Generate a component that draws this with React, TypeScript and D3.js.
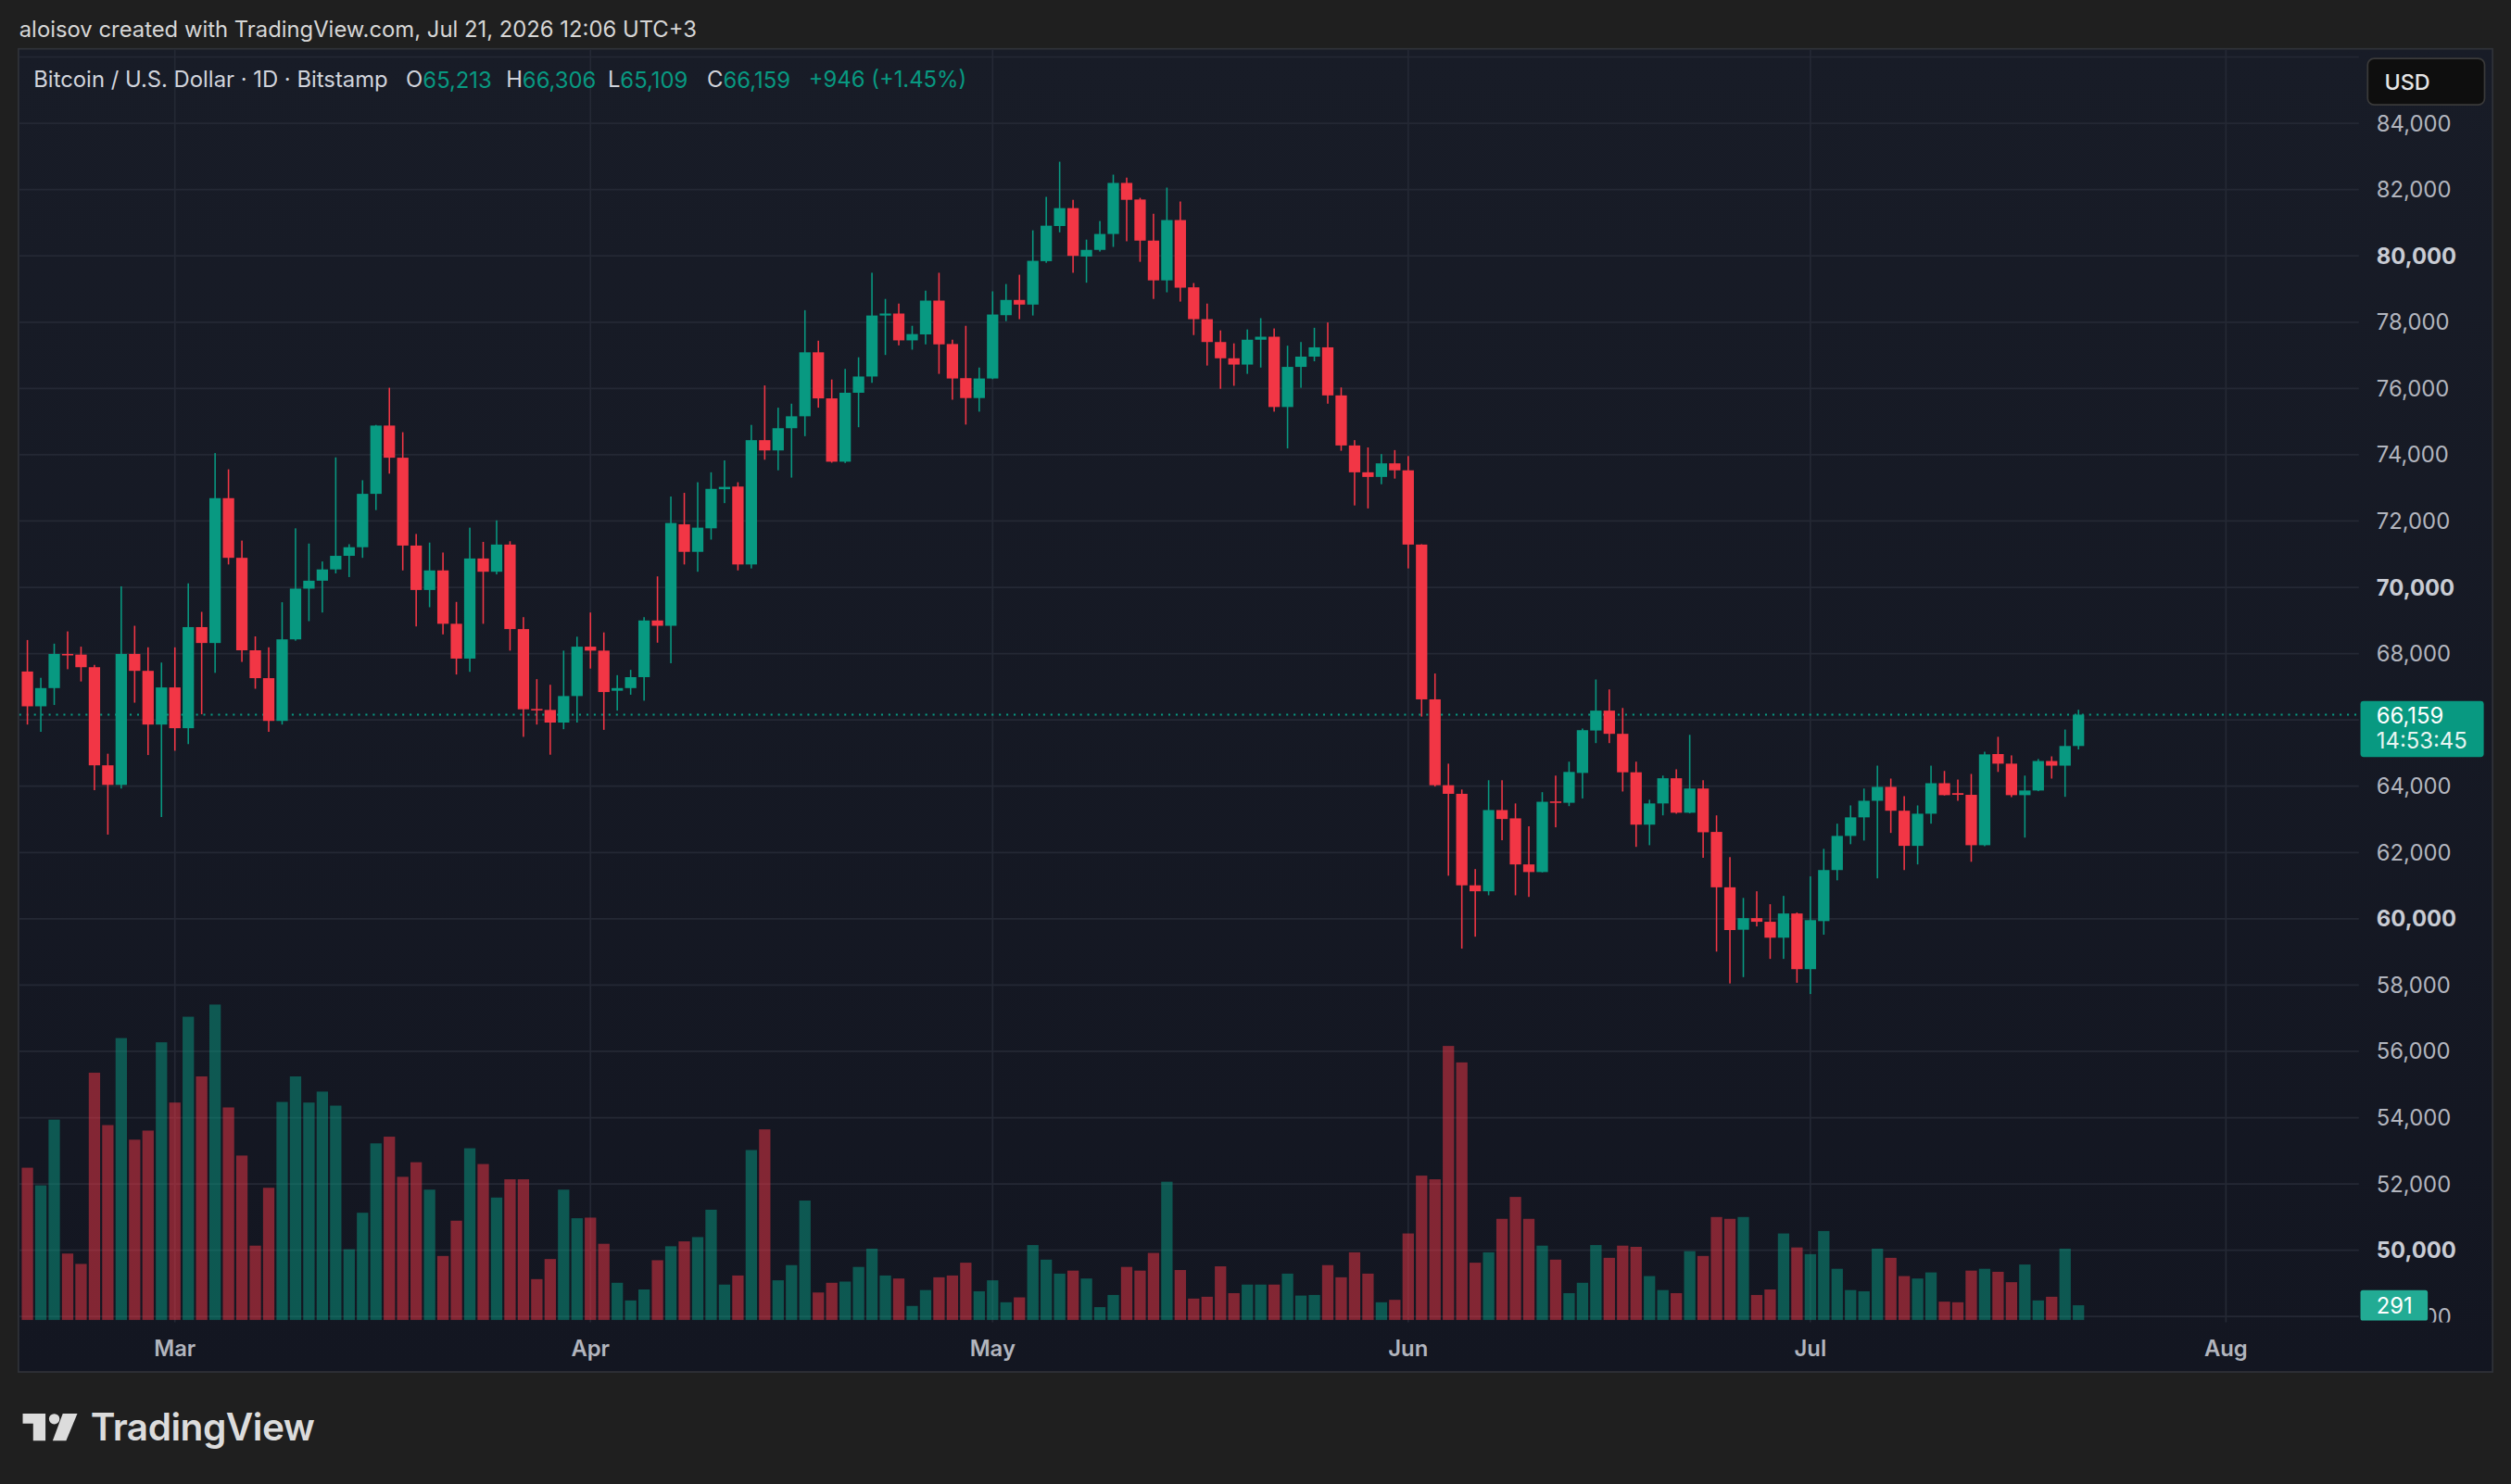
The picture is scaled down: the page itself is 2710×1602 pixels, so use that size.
import React from 'react';
import * as d3 from 'd3';

// daily candles, [open, high, low, close]
type Bar = [number, number, number, number];

const febOhlc: Bar[] = [
  [67460, 68410, 65860, 66410], [66410, 67270, 65640, 66960], [66960, 68300, 66450, 67990],
  [67990, 68670, 67530, 67970], [67970, 68210, 67160, 67590], [67590, 67660, 63880, 64630],
  [64630, 64980, 62540, 64040], [64040, 70030, 63930, 67990], [67990, 68840, 66520, 67480],
  [67480, 68190, 64940, 65860], [65860, 67730, 63070, 66980],
];
const marOhlc: Bar[] = [
  [66980, 68190, 65070, 65750], [65750, 70120, 65270, 68800], [68800, 69260, 66170, 68320],
  [68320, 74050, 67420, 72690], [72690, 73560, 70690, 70890], [70890, 71410, 67750, 68100],
  [68100, 68520, 66940, 67260], [67260, 68190, 65640, 65970], [65970, 69550, 65860, 68430],
  [68430, 71780, 68390, 69960], [69960, 71320, 68980, 70200], [70200, 70780, 69240, 70540],
  [70540, 73920, 70420, 70950], [70950, 71300, 70310, 71210], [71210, 73230, 70890, 72820],
  [72820, 74900, 72330, 74880], [74880, 76020, 73430, 73910], [73910, 74680, 70510, 71260],
  [71260, 71610, 68820, 69920], [69920, 71350, 69400, 70510], [70510, 71050, 68580, 68900],
  [68900, 69560, 67370, 67850], [67850, 71800, 67450, 70870], [70870, 71370, 68900, 70470],
  [70470, 72020, 70390, 71290], [71290, 71390, 68090, 68740], [68740, 69100, 65490, 66320],
  [66330, 67230, 65860, 66300], [66300, 67060, 64950, 65920], [65920, 68090, 65720, 66720],
  [66720, 68510, 65920, 68210],
];
const aprOhlc: Bar[] = [
  [68210, 69240, 67550, 68090], [68090, 68640, 65700, 66840], [66880, 67350, 66280, 66960],
  [66960, 67510, 66760, 67290], [67290, 69100, 66580, 69000], [69000, 70330, 68330, 68840],
  [68840, 72740, 67710, 71940], [71900, 72850, 70690, 71070], [71070, 73170, 70470, 71800],
  [71780, 73470, 71440, 72970], [72960, 73830, 72540, 73030], [73040, 73170, 70510, 70690],
  [70690, 74900, 70570, 74440], [74440, 76090, 73850, 74130], [74130, 75420, 73530, 74800],
  [74800, 75540, 73310, 75160], [75160, 78360, 74560, 77090], [77090, 77440, 75420, 75700],
  [75700, 76270, 73760, 73790], [73790, 76590, 73750, 75870], [75870, 76940, 74830, 76360],
  [76360, 79490, 76170, 78200], [78200, 78700, 77010, 78260], [78260, 78560, 77300, 77450],
  [77450, 77890, 77170, 77640], [77630, 78950, 77330, 78650], [78650, 79490, 76440, 77330],
  [77340, 77470, 75660, 76300], [76310, 77890, 74910, 75710], [75710, 76630, 75300, 76300],
];
const mayOhlc: Bar[] = [
  [76300, 78930, 76280, 78230], [78210, 79150, 78030, 78670], [78670, 79430, 78090, 78530],
  [78530, 80770, 78200, 79850], [79840, 81780, 79790, 80910], [80900, 82840, 80710, 81440],
  [81440, 81690, 79490, 80000], [79980, 80490, 79190, 80180], [80180, 81050, 80130, 80660],
  [80660, 82450, 80270, 82200], [82200, 82360, 80440, 81690], [81700, 81750, 79820, 80460],
  [80460, 81270, 78700, 79260], [79260, 82060, 78900, 81080], [81080, 81640, 78620, 79040],
  [79050, 79180, 77610, 78090], [78090, 78560, 76690, 77400], [77400, 77750, 75990, 76910],
  [76910, 77360, 76080, 76720], [76720, 77780, 76440, 77470], [77470, 78120, 76630, 77560],
  [77560, 77810, 75300, 75440], [75440, 77290, 74190, 76650], [76650, 77400, 76020, 76960],
  [76960, 77830, 76820, 77240], [77240, 77990, 75540, 75790], [75790, 76030, 74120, 74280],
  [74280, 74440, 72470, 73470], [73470, 74220, 72380, 73330], [73330, 74020, 73110, 73740],
  [73740, 74140, 73280, 73530],
];
const junOhlc: Bar[] = [
  [73530, 73960, 70570, 71290], [71290, 71300, 66100, 66620], [66620, 67400, 63990, 64030],
  [64030, 64680, 61300, 63770], [63770, 63900, 59100, 61010], [61010, 61500, 59460, 60830],
  [60830, 64180, 60710, 63280], [63280, 64180, 62370, 63010], [63030, 63480, 60710, 61640],
  [61640, 62790, 60660, 61410], [61410, 63820, 61400, 63530], [63540, 64320, 62760, 63510],
  [63500, 64740, 63400, 64430], [64400, 65740, 63630, 65690], [65680, 67220, 65300, 66280],
  [66280, 66920, 65300, 65580], [65580, 66360, 63840, 64420], [64420, 64740, 62170, 62840],
  [62840, 63590, 62220, 63480], [63480, 64320, 63120, 64240], [64240, 64510, 63170, 63200],
  [63200, 65550, 63180, 63930], [63930, 64180, 61840, 62610], [62620, 63120, 59010, 60950],
  [60950, 61860, 58050, 59660], [59670, 60630, 58240, 60020], [60020, 60830, 59770, 59910],
  [59910, 60440, 58790, 59430], [59430, 60690, 58790, 60160], [60160, 60190, 58070, 58480],
];
const julOhlc: Bar[] = [
  [58480, 61280, 57730, 59960], [59930, 62110, 59520, 61470], [61470, 62870, 61160, 62500],
  [62500, 63420, 62250, 63060], [63060, 63930, 62360, 63560], [63560, 64620, 61220, 63980],
  [63980, 64230, 62590, 63260], [63260, 63700, 61470, 62200], [62200, 63420, 61640, 63170],
  [63170, 64620, 62870, 64090], [64090, 64460, 63720, 63730], [63790, 64200, 63560, 63740],
  [63740, 64370, 61720, 62220], [62220, 65040, 62190, 64960], [64970, 65490, 64430, 64680],
  [64680, 64930, 63670, 63730], [63730, 64320, 62450, 63870], [63870, 64820, 63850, 64760],
  [64760, 64900, 64230, 64620], [64620, 65710, 63680, 65213], [65213, 66306, 65109, 66159],
];

// volume (BTC)
const febVol = [3025, 2674, 3981, 1319, 1113, 4913, 3872, 5602, 3582, 3763, 5518];
const marVol = [4320, 6026, 4840, 6268, 4223, 3267, 1476, 2626, 4332, 4840, 4320, 4538, 4259, 1404, 2130, 3509,
  3642, 2844, 3134, 2589, 1271, 1972, 3412, 3098, 2432, 2795, 2795, 811, 1210, 2589, 2021];
const aprVol = [2033, 1513, 738, 387, 605, 1186, 1464, 1561, 1646, 2190, 702, 883, 3376, 3787, 787, 1089,
  2372, 545, 738, 762, 1053, 1416, 883, 823, 278, 593, 847, 883, 1137, 569];
const mayVol = [787, 351, 448, 1488, 1198, 920, 980, 823, 254, 496, 1053, 980, 1331, 2747, 992, 424, 460,
  1065, 532, 702, 702, 702, 920, 484, 496, 1089, 847, 1343, 920, 351, 399];
const junVol = [1718, 2868, 2795, 5445, 5118, 1137, 1343, 2009, 2444, 2009, 1476, 1198, 532, 738, 1488, 1234,
  1476, 1452, 871, 593, 532, 1367, 1271, 2045, 2009, 2045, 496, 605, 1718, 1440];
const julVol = [1307, 1767, 1016, 593, 569, 1416, 1234, 871, 823, 944, 363, 351, 980, 1016, 956, 750, 1101,
  387, 460, 1416, 291];

const priceTicks = d3.range(48000, 84001, 2000);
const gridTicks = d3.range(48000, 86001, 2000);
const legendText = 'Bitcoin / U.S. Dollar · 1D · Bitstamp';
const lastPrice = 66159;
const lastVolume = 291;
const countdown = '14:53:45';

const UP = '#089981';
const DOWN = '#f23645';
const FONT = 'Inter, Roboto, "Noto Sans", sans-serif';

const W = 1568;
const H = 927;
const plotLeft = 12;
const plotRight = 1473;
const plotTop = 31;
const plotBottom = 826;

export default function App() {
  const ohlc = [...febOhlc, ...marOhlc, ...aprOhlc, ...mayOhlc, ...junOhlc, ...julOhlc];
  const vols = [...febVol, ...marVol, ...aprVol, ...mayVol, ...junVol, ...julVol];
  const days = d3.utcDay.range(new Date(Date.UTC(2026, 1, 18)), new Date(Date.UTC(2026, 6, 22)));

  const x = d3.scaleUtc()
    .domain([new Date(Date.UTC(2026, 2, 1)), new Date(Date.UTC(2026, 7, 1))])
    .range([109.2, 1390]);
  const y = d3.scaleLinear().domain([84000, 48000]).range([77, 822.4]);
  const yVol = d3.scaleLinear().domain([0, d3.max(vols) as number]).range([824.5, 627.5]);

  const months = d3.utcMonth.range(new Date(Date.UTC(2026, 2, 1)), new Date(Date.UTC(2026, 7, 2)));
  const monthFmt = d3.utcFormat('%b');
  const priceFmt = d3.format(',');

  const bodyW = 7.1;
  const lastY = y(lastPrice);
  // labels hidden under the last price badge are not drawn, like the real axis
  const axisTicks = priceTicks.filter((p) => Math.abs(y(p) - (lastY + 8.5)) > 20);

  return (
    <svg
      width={2710}
      height={1602}
      viewBox={`0 0 ${W} ${H}`}
      preserveAspectRatio="none"
      style={{ position: 'absolute', left: 0, top: 0, display: 'block' }}
      fontFamily={FONT}
    >
      <defs>
        <linearGradient id="bg" x1="0" y1="0" x2="0" y2="1">
          <stop offset="0" stopColor="#181c27" />
          <stop offset="1" stopColor="#131621" />
        </linearGradient>
        <clipPath id="plotClip">
          <rect x={plotLeft} y={plotTop} width={plotRight - plotLeft} height={plotBottom - plotTop} />
        </clipPath>
        <clipPath id="axisClip">
          <rect x={plotRight} y={plotTop} width={90} height={plotBottom - plotTop} />
        </clipPath>
        <clipPath id="volLabelClip">
          <rect x={1517} y={plotTop} width={40} height={plotBottom - plotTop} />
        </clipPath>
      </defs>

      <rect x={0} y={0} width={W} height={H} fill="#1f1f1f" />
      <text x={12} y={18.5} dominantBaseline="central" fontSize={13.8} fill="#d6d6d6">
        aloisov created with TradingView.com, Jul 21, 2026 12:06 UTC+3
      </text>

      {/* panel */}
      <rect x={11.5} y={30.5} width={1545} height={826.5} fill="url(#bg)" stroke="#303238" strokeWidth={1} />

      {/* grid */}
      <g stroke="#242834" strokeWidth={1}>
        {gridTicks.map((p) => (
          <line key={'h' + p} x1={plotLeft} x2={plotRight} y1={y(p)} y2={y(p)} />
        ))}
        {months.map((m) => (
          <line key={'v' + m.getTime()} x1={x(m)} x2={x(m)} y1={plotTop} y2={plotBottom} />
        ))}
      </g>

      <g clipPath="url(#plotClip)">
        {/* volume */}
        {vols.map((v, i) => {
          const [o, , , c] = ohlc[i];
          return (
            <rect
              key={'vol' + i}
              x={x(days[i]) - bodyW / 2}
              y={yVol(v)}
              width={bodyW}
              height={yVol(0) - yVol(v)}
              fill={c >= o ? UP : DOWN}
              fillOpacity={0.5}
            />
          );
        })}

        {/* last price line */}
        <line x1={plotLeft} x2={plotRight} y1={lastY} y2={lastY} stroke={UP} strokeWidth={1.1} strokeDasharray="1.2 3.4" />

        {/* candles */}
        {ohlc.map(([o, h, l, c], i) => {
          const cx = x(days[i]);
          const col = c >= o ? UP : DOWN;
          const top = y(Math.max(o, c));
          const bh = Math.max(0.9, Math.abs(y(o) - y(c)));
          return (
            <g key={'c' + i} fill={col}>
              <rect x={cx - 0.45} y={y(h)} width={0.9} height={y(l) - y(h)} />
              <rect x={cx - bodyW / 2} y={top} width={bodyW} height={bh} />
            </g>
          );
        })}
      </g>

      {/* price axis */}
      <g clipPath="url(#axisClip)">
        {axisTicks.map((p) => (
          <g key={'pl' + p} clipPath={p === 48000 ? 'url(#volLabelClip)' : undefined}>
            <text
              x={1484}
              y={y(p)}
              dominantBaseline="central"
              fontSize={13.8}
              fontWeight={p % 10000 === 0 ? 700 : 400}
              fill={p % 10000 === 0 ? '#c9ccd4' : '#b2b5be'}
            >
              {priceFmt(p)}
            </text>
          </g>
        ))}
      </g>

      {/* USD button */}
      <rect x={1478.5} y={36.5} width={73} height={29} rx={4} fill="#0e0e0e" stroke="#3a3a3a" />
      <text x={1489} y={51} dominantBaseline="central" fontSize={13.5} fill="#e6e6e6" fontWeight={500}>USD</text>

      {/* last price label */}
      <rect x={1474} y={lastY - 8.5} width={77} height={35} rx={2} fill={UP} />
      <text x={1484} y={lastY + 0.5} dominantBaseline="central" fontSize={13.8} fill="#ffffff">
        {priceFmt(lastPrice)}
      </text>
      <text x={1484} y={lastY + 16.5} dominantBaseline="central" fontSize={13.8} fill="#e8f5f2">
        {countdown}
      </text>

      {/* volume label */}
      <rect x={1474} y={yVol(lastVolume) - 9.5} width={42} height={19} rx={1.5} fill="#22ab94" />
      <text x={1484} y={yVol(lastVolume)} dominantBaseline="central" fontSize={13.8} fill="#ffffff">
        {lastVolume}
      </text>

      {/* time axis */}
      {months.map((m) => (
        <text
          key={'ml' + m.getTime()}
          x={x(m)}
          y={842.5}
          textAnchor="middle"
          dominantBaseline="central"
          fontSize={13.8}
          fontWeight={600}
          fill="#b2b5be"
        >
          {monthFmt(m)}
        </text>
      ))}

      {/* legend */}
      <g fontSize={13.8} fill="#d1d4dc">
        <text x={21} y={49.5} dominantBaseline="central">{legendText}</text>
        <text x={253.5} y={49.5} dominantBaseline="central">O<tspan fill={UP}>65,213</tspan></text>
        <text x={316} y={49.5} dominantBaseline="central">H<tspan fill={UP}>66,306</tspan></text>
        <text x={379.5} y={49.5} dominantBaseline="central">L<tspan fill={UP}>65,109</tspan></text>
        <text x={441.5} y={49.5} dominantBaseline="central">C<tspan fill={UP}>66,159</tspan></text>
        <text x={505} y={49.5} dominantBaseline="central" fill={UP}>+946 (+1.45%)</text>
      </g>

      {/* TradingView logo */}
      <g fill="#dcdcdc">
        <path d="M14.2,883 H28.4 V900 H20.7 V889.3 H14.2 Z" />
        <circle cx={33.9} cy={886.4} r={3.3} />
        <path d="M39.2,883 H48.3 L41.3,900 H32.9 Z" />
        <text x={56.5} y={900} fontSize={23.5} fontWeight={600} letterSpacing={-0.3}>TradingView</text>
      </g>
    </svg>
  );
}
